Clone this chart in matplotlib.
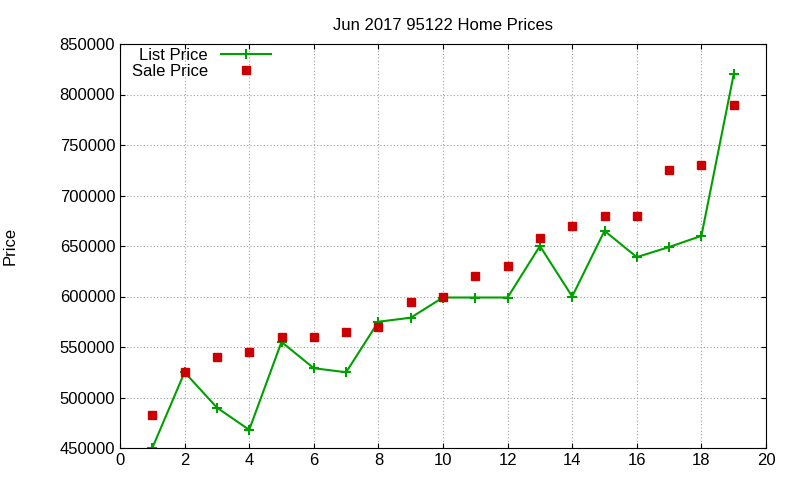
import matplotlib
matplotlib.use("Agg")
import matplotlib.pyplot as plt

plt.rcParams['font.family'] = ['Liberation Sans', 'DejaVu Sans']

x = list(range(1, 20))
list_price = [450000, 525000, 490000, 468000, 555000, 529000, 525000, 575000, 579000, 599000,
              599000, 599000, 650000, 600000, 665000, 639000, 649000, 660000, 820000]
sale_price = [483000, 525000, 540000, 545000, 560000, 560000, 565000, 570000, 595000, 600000,
              620000, 630000, 658000, 670000, 680000, 680000, 725000, 730000, 790000]

fig = plt.figure(figsize=(8, 4.8), dpi=100)
ax = fig.add_axes([120/800, 1-448/480, (766-120)/800, (448-44)/480])
ax.plot(x, list_price, color="#00a000", lw=1.5, marker="+", ms=7, mew=1.5, label="List Price")
ax.plot(x, sale_price, ls="none", color="#cc0000", marker="s", ms=6, label="Sale Price")
ax.set_xlim(0, 20)
ax.set_ylim(450000, 850000)
ax.set_xticks(range(0, 21, 2))
ax.set_yticks(range(450000, 850001, 50000))
ax.grid(True, color="#a0a0a0", ls=(0, (1, 2)), lw=0.8)
ax.tick_params(direction="in", top=True, right=True, labelsize=12)
ax.set_title("Jun 2017 95122 Home Prices", fontsize=12, pad=10)
ax.set_ylabel("Price", fontsize=12, labelpad=30)
leg = ax.legend(loc="upper left", markerfirst=False, frameon=False, fontsize=12,
                bbox_to_anchor=(0.0, 1.02), handlelength=3, borderaxespad=0.3,
                labelspacing=0.1)
for t in leg.get_texts():
    t.set_ha("right")
fig.savefig("out.png", dpi=100)
